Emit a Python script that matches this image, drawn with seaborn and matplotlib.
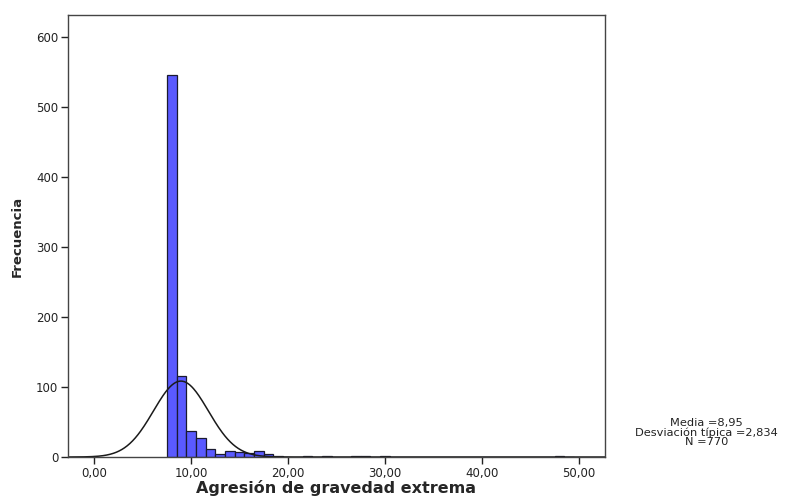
import numpy as np
import pandas as pd
import matplotlib
matplotlib.use("Agg")
import matplotlib.pyplot as plt
import seaborn as sns
from matplotlib.ticker import FuncFormatter

# Data (bin centre -> frequency)
bin_values = [8, 9, 10, 11, 12, 13, 14, 15, 16, 17, 18, 19, 22, 24, 27, 28, 30, 48]
frequencies = [545, 115, 37, 27, 11, 5, 8, 7, 6, 9, 4, 1, 2, 1, 1, 1, 1, 1]
x_ticks = [0, 10, 20, 30, 40, 50]
y_ticks = [0, 100, 200, 300, 400, 500, 600]
media = 8.95
desviacion = 2.834
n_total = 770

sns.set_theme(style="white")
plt.rcParams['font.family'] = ['DejaVu Sans']

fig = plt.figure(figsize=(7.86, 4.98), dpi=100)
ax = fig.add_axes([0.0865, 0.0823, 0.6832, 0.8876])

df = pd.DataFrame({"valor": bin_values, "frecuencia": frequencies})
sns.histplot(data=df, x="valor", weights="frecuencia", binwidth=1.0, binrange=(7.5, 49.5),
             color="#5a5aff", alpha=1.0, edgecolor="#1a1a30", linewidth=0.9, ax=ax)

# Normal curve from the stated statistics
xs = np.linspace(-2.7, 52.7, 600)
ys = n_total * 1.0 / (desviacion * np.sqrt(2 * np.pi)) * np.exp(-0.5 * ((xs - media) / desviacion) ** 2)
ax.plot(xs, ys, color="#1a1a1a", linewidth=1.1)

ax.set_xlim(-2.7, 52.7)
ax.set_ylim(0, 631)
ax.set_xticks(x_ticks)
ax.set_yticks(y_ticks)
ax.xaxis.set_major_formatter(FuncFormatter(lambda v, p: f"{v:.2f}".replace(".", ",")))
ax.tick_params(axis="both", direction="out", length=5, width=1, colors="#222222",
               labelsize=8.5, labelcolor="#222222", bottom=True, left=True)
ax.tick_params(axis="x", pad=2)
ax.tick_params(axis="y", pad=2)
for s in ax.spines.values():
    s.set_color("#444444")
    s.set_linewidth(1.0)

ax.set_xlabel("Agresión de gravedad extrema", fontsize=11.5, fontweight="bold", labelpad=0)
ax.set_ylabel("Frecuencia", fontsize=9.5, fontweight="bold", labelpad=9)

fig.text(0.899, 0.131, "Media =8,95\nDesviación típica =2,834\nN =770",
         ha="center", va="center", fontsize=8.2, linespacing=0.92, color="#222222")

fig.savefig("out.png", dpi=100, facecolor="white")
